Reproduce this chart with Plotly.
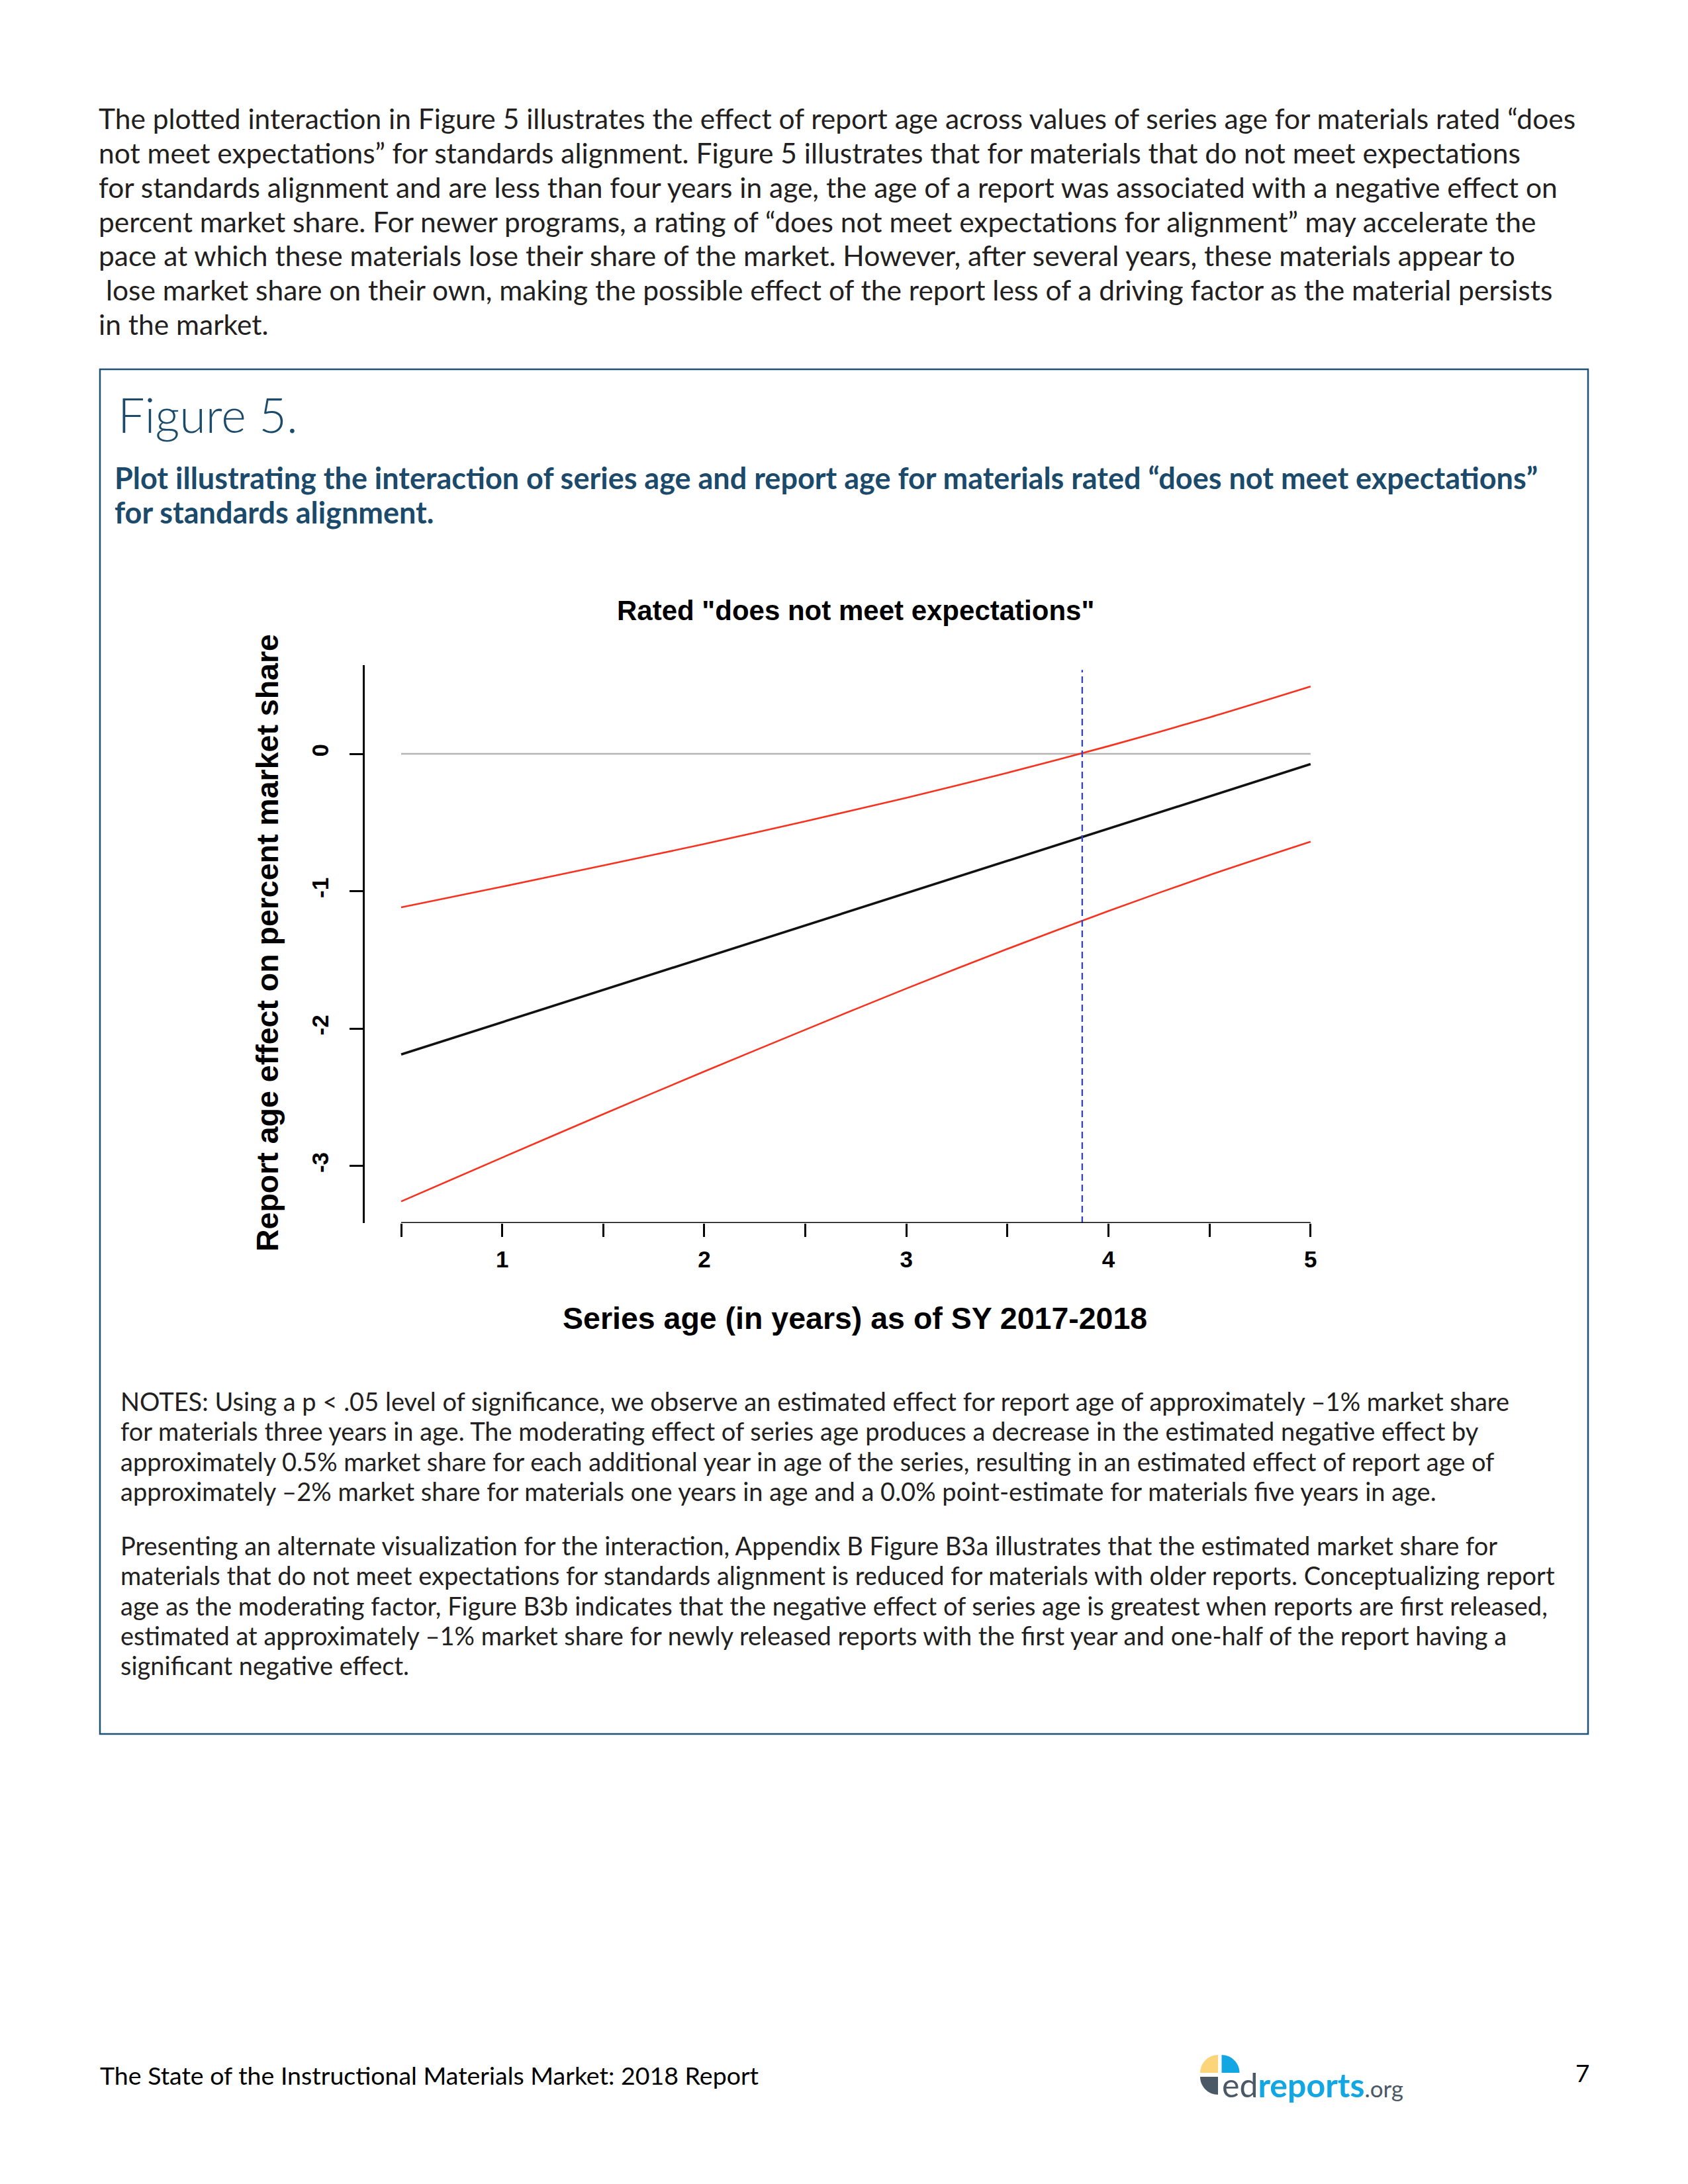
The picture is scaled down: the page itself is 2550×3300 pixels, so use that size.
import plotly.graph_objects as go

W, H = 2550, 3300


def px(x):
    return x / W


def py(y):
    return 1 - y / H


# ---------------- data ----------------
series_age = [0.5, 1.0, 1.5, 2.0, 2.5, 3.0, 3.5, 4.0, 4.5, 5.0]
effect_est = [-2.188, -1.953, -1.718, -1.484, -1.249, -1.014, -0.779, -0.544, -0.309, -0.075]
ci_upper = [-1.118, -0.967, -0.813, -0.656, -0.491, -0.320, -0.138, 0.056, 0.265, 0.490]
ci_lower = [-3.258, -2.939, -2.623, -2.312, -2.008, -1.708, -1.420, -1.144, -0.883, -0.640]
jn_point = 3.87          # series age where the upper bound crosses zero
jn_top = 0.61
reference_value = 0

x_tick_vals = [0.5, 1.0, 1.5, 2.0, 2.5, 3.0, 3.5, 4.0, 4.5, 5.0]
x_tick_text = ["", "1", "", "2", "", "3", "", "4", "", "5"]
y_tick_vals = [0, -1, -2, -3]
y_tick_text = ["0", "-1", "-2", "-3"]

chart_title = 'Rated "does not meet expectations"'
x_title = "Series age (in years) as of SY 2017-2018"
y_title = "Report age effect on percent market share"

body_lines = [
    "The plotted interaction in Figure 5 illustrates the effect of report age across values of series age for materials rated “does",
    "not meet expectations” for standards alignment. Figure 5 illustrates that for materials that do not meet expectations",
    "for standards alignment and are less than four years in age, the age of a report was associated with a negative effect on",
    "percent market share. For newer programs, a rating of “does not meet expectations for alignment” may accelerate the",
    "pace at which these materials lose their share of the market. However, after several years, these materials appear to",
    "\u00a0lose market share on their own, making the possible effect of the report less of a driving factor as the material persists",
    "in the market.",
]
fig_label = "Figure 5."
subtitle_lines = [
    "Plot illustrating the interaction of series age and report age for materials rated “does not meet expectations”",
    "for standards alignment.",
]
notes_p1 = [
    "NOTES: Using a p &lt; .05 level of significance, we observe an estimated effect for report age of approximately –1% market share",
    "for materials three years in age. The moderating effect of series age produces a decrease in the estimated negative effect by",
    "approximately 0.5% market share for each additional year in age of the series, resulting in an estimated effect of report age of",
    "approximately –2% market share for materials one years in age and a 0.0% point-estimate for materials five years in age.",
]
notes_p2 = [
    "Presenting an alternate visualization for the interaction, Appendix B Figure B3a illustrates that the estimated market share for",
    "materials that do not meet expectations for standards alignment is reduced for materials with older reports. Conceptualizing report",
    "age as the moderating factor, Figure B3b indicates that the negative effect of series age is greatest when reports are first released,",
    "estimated at approximately –1% market share for newly released reports with the first year and one-half of the report having a",
    "significant negative effect.",
]
footer_text = "The State of the Instructional Materials Market: 2018 Report"
page_number = "7"

# ---------------- styles ----------------
TEXT_FONT = "Lato, 'Open Sans', sans-serif"
CHART_FONT = "'Liberation Sans', Arial, sans-serif"
TEAL = "#1b4a6b"
RED = "#f8321e"
BLUE = "#3346c4"

fig = go.Figure()

fig.add_trace(go.Scatter(x=series_age, y=ci_upper, mode="lines",
                         line=dict(color=RED, width=2.6, shape="spline", smoothing=0.8),
                         showlegend=False, hoverinfo="skip"))
fig.add_trace(go.Scatter(x=series_age, y=effect_est, mode="lines",
                         line=dict(color="#111111", width=3.6),
                         showlegend=False, hoverinfo="skip"))
fig.add_trace(go.Scatter(x=series_age, y=ci_lower, mode="lines",
                         line=dict(color=RED, width=2.6, shape="spline", smoothing=0.8),
                         showlegend=False, hoverinfo="skip"))

# plot region in pixels: x 551..2040, y 1005..1848
x0_px, x1_px = 551, 2040
ppu_x = 305.3
xr0 = 0.5 - (606 - x0_px) / ppu_x
xr1 = xr0 + (x1_px - x0_px) / ppu_x
y_top_px, y_bot_px = 1005, 1848
ppu_y = 207.6
yr1 = (1139 - y_top_px) / ppu_y
yr0 = (1139 - y_bot_px) / ppu_y

shapes = []
# grey zero reference line
shapes.append(dict(type="line", xref="x", yref="y", x0=series_age[0], x1=series_age[-1],
                   y0=reference_value, y1=reference_value,
                   line=dict(color="#b4b4b4", width=2.6), layer="below"))
# blue dashed vertical line
shapes.append(dict(type="line", xref="x", yref="y", x0=jn_point, x1=jn_point, y0=yr0, y1=jn_top,
                   line=dict(color=BLUE, width=2.4, dash="10px,6px"), layer="above"))
# x axis line (R style, spans first to last tick)
shapes.append(dict(type="line", xref="x", yref="y", x0=x_tick_vals[0], x1=x_tick_vals[-1],
                   y0=yr0, y1=yr0, line=dict(color="black", width=3)))
# figure box
shapes.append(dict(type="rect", xref="paper", yref="paper", x0=px(151), x1=px(2399),
                   y0=py(2620), y1=py(558), line=dict(color="#1f5274", width=2.5)))


# logo icon (quarter discs, cubic bezier approximation)
def quarter(cx, cy, r, quad, color):
    k = 0.5523 * r
    if quad == "ul":
        p = (f"M {px(cx)},{py(cy)} L {px(cx - r)},{py(cy)} "
             f"C {px(cx - r)},{py(cy - k)} {px(cx - k)},{py(cy - r)} {px(cx)},{py(cy - r)} Z")
    elif quad == "ur":
        p = (f"M {px(cx)},{py(cy)} L {px(cx)},{py(cy - r)} "
             f"C {px(cx + k)},{py(cy - r)} {px(cx + r)},{py(cy - k)} {px(cx + r)},{py(cy)} Z")
    else:  # ll
        p = (f"M {px(cx)},{py(cy)} L {px(cx)},{py(cy + r)} "
             f"C {px(cx - k)},{py(cy + r)} {px(cx - r)},{py(cy + k)} {px(cx - r)},{py(cy)} Z")
    return dict(type="path", xref="paper", yref="paper", path=p, fillcolor=color,
                line=dict(width=0))


shapes.append(quarter(1840, 3132, 27, "ul", "#fcd57a"))
shapes.append(quarter(1845.5, 3132, 27, "ur", "#12a7e3"))
shapes.append(quarter(1840, 3138, 27, "ll", "#4b5866"))

annotations = []


def text(x, y, s, size, color="#231f20", family=TEXT_FONT, weight="normal",
         xanchor="left", yanchor="middle", angle=0):
    annotations.append(dict(x=px(x), y=py(y), xref="paper", yref="paper", text=s,
                            showarrow=False, xanchor=xanchor, yanchor=yanchor,
                            textangle=angle,
                            font=dict(size=size, color=color, family=family, weight=weight)))


for i, line in enumerate(body_lines):
    text(147, 179 + i * 51.7, line, 42.5)

text(176, 626, fig_label, 72, color=TEAL, weight=300)
for i, line in enumerate(subtitle_lines):
    text(171, 722 + i * 52, line, 45, color=TEAL, weight="bold")

text(1292, 922, chart_title, 42, color="black", family=CHART_FONT, weight="bold", xanchor="center")
text(1291, 1992, x_title, 46.5, color="black", family=CHART_FONT, weight="bold", xanchor="center")
text(404, 1424, y_title, 46.5, color="black", family=CHART_FONT, weight="bold",
     xanchor="center", angle=-90)

for i, line in enumerate(notes_p1):
    text(180, 2117 + i * 45.3, line, 38)
for i, line in enumerate(notes_p2):
    text(180, 2335 + i * 45.3, line, 38)

text(149, 3135, footer_text, 37.5, color="black")
text(2390, 3131, page_number, 37, color="black", xanchor="center")
text(1844, 3150,
     "<span style='color:#4b5866'>ed</span><span style='color:#12a7e3'><b>reports</b></span>"
     "<span style='color:#4b5866;font-size:35px'>.org</span>",
     50, family="Lato, 'Open Sans', sans-serif")

fig.update_layout(
    width=W, height=H, autosize=False,
    margin=dict(l=0, r=0, t=0, b=0, pad=0),
    paper_bgcolor="white", plot_bgcolor="white",
    showlegend=False,
    shapes=shapes, annotations=annotations,
    xaxis=dict(domain=[px(x0_px), px(x1_px)], range=[xr0, xr1],
               tickmode="array", tickvals=x_tick_vals, ticktext=x_tick_text,
               ticks="outside", ticklen=20, tickwidth=3, tickcolor="black",
               showline=False, showgrid=False, zeroline=False,
               ticklabelstandoff=4,
               tickfont=dict(family=CHART_FONT, size=35, color="black", weight="bold")),
    yaxis=dict(domain=[py(y_bot_px), py(y_top_px)], range=[yr0, yr1],
               tickmode="array", tickvals=y_tick_vals, ticktext=y_tick_text,
               tickangle=-90,
               ticks="outside", ticklen=20, tickwidth=3, tickcolor="black",
               showline=True, linewidth=3, linecolor="black",
               showgrid=False, zeroline=False,
               ticklabelstandoff=18,
               tickfont=dict(family=CHART_FONT, size=35, color="black", weight="bold")),
)

fig.write_html("out.html")
